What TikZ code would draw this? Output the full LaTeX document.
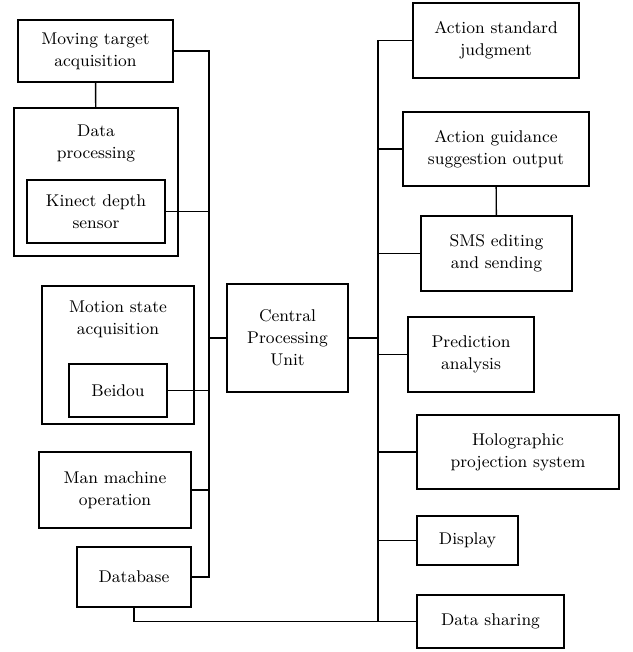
\documentclass[tikz,border=0pt]{standalone}
\usepackage{tikz}
\usetikzlibrary{positioning}
\usetikzlibrary{calc}
\tikzset{every picture/.style={line width=0.7pt,x=0.5pt,y=-0.5pt},
  box/.style={draw,inner sep=0pt,align=center,font=\fontsize{8.5}{11}\selectfont},
  txt/.style={align=center,font=\fontsize{8.5}{11}\selectfont}}
\begin{document}
\begin{tikzpicture}
\useasboundingbox (0,0) rectangle (632,652);
% left side
\node (mta) at (95.5,51) [box, minimum width=77.5pt, minimum height=31pt] {Moving target\\acquisition};
\node (dp) at (96,182) [box, minimum width=82pt, minimum height=74pt] {};
\node (dptext) at (96,143) [txt] {Data\\processing};
\node (kds) at (96,211.5) [box, minimum width=69pt, minimum height=31.5pt] {Kinect depth\\sensor};
\node (msa) at (118,355) [box, minimum width=76pt, minimum height=69pt] {};
\node (msatext) at (118,319) [txt] {Motion state\\acquisition};
\node (bd) at (118,390.5) [box, minimum width=49pt, minimum height=26.5pt] {Beidou};
\node (mmo) at (115,490) [box, minimum width=76pt, minimum height=38pt] {Man machine\\operation};
\node (db) at (134,577) [box, minimum width=57pt, minimum height=30pt] {Database};
% centre
\node (cpu) at (287.5,338) [box, minimum width=60.5pt, minimum height=54pt] {Central\\Processing\\Unit};
% right side
\node (asj) at (496,40.5) [box, minimum width=83pt, minimum height=37.5pt] {Action standard\\judgment};
\node (ags) at (496,149) [box, minimum width=93pt, minimum height=37pt] {Action guidance\\suggestion output};
\node (sms) at (496.5,253.5) [box, minimum width=75.5pt, minimum height=37.5pt] {SMS editing\\and sending};
\node (pa) at (471,354.5) [box, minimum width=63pt, minimum height=37.5pt] {Prediction\\analysis};
\node (hps) at (518,452) [box, minimum width=101pt, minimum height=37pt] {Holographic\\projection system};
\node (dsp) at (467.5,540.5) [box, minimum width=50.5pt, minimum height=24.5pt] {Display};
\node (dsh) at (490.5,621.5) [box, minimum width=73.5pt, minimum height=26.5pt] {Data sharing};
\coordinate (lbus) at (209,0);
\coordinate (rbus) at (378,0);

\draw (mta) -- (dp);
\draw (ags) -- (sms);
\draw (mta.east) -| (lbus |- db.east) -- (db.east);
\draw (kds.east) -- (kds.east -| lbus);
\draw (bd.east) -- (bd.east -| lbus);
\draw (mmo.east) -- (mmo.east -| lbus);
\draw[line width=1pt] (lbus |- kds.east) -- (lbus |- cpu.west) -- (cpu.west);
\draw[line width=1pt] (cpu.east) -- (cpu.east -| rbus);
\draw (asj.west) -| (rbus |- dsh.west) -- (dsh.west);
\draw (ags.west) -- (ags.west -| rbus);
\draw (sms.west) -- (sms.west -| rbus);
\draw (pa.west) -- (pa.west -| rbus);
\draw (hps.west) -- (hps.west -| rbus);
\draw (dsp.west) -- (dsp.west -| rbus);
%\draw (db.south) -- +(0,15);
\draw (db.south) |- (dsh.west);
\end{tikzpicture}
\end{document}
